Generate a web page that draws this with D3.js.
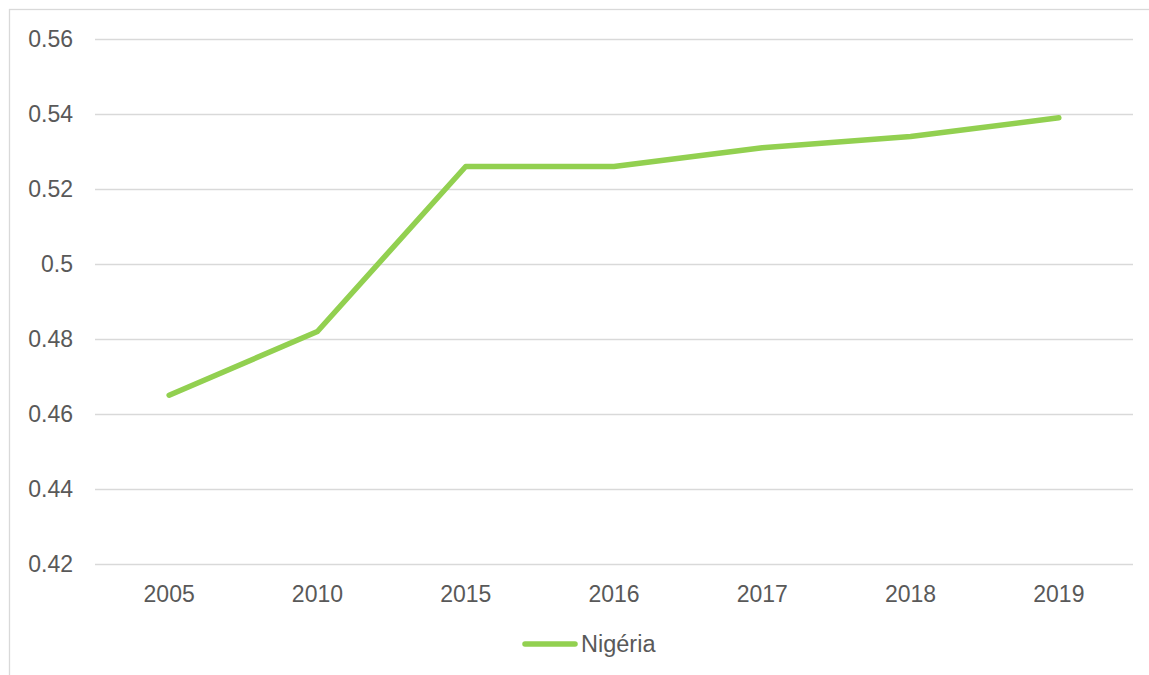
<!DOCTYPE html>
<html><head><meta charset="utf-8">
<script src="https://cdn.jsdelivr.net/npm/d3@7"></script>
<style>body{margin:0;background:#fff}svg{display:block}</style>
</head><body>
<script>
const categories = ["2005","2010","2015","2016","2017","2018","2019"];
const values = [0.465,0.482,0.526,0.526,0.531,0.534,0.539];
const yTicks = [0.42,0.44,0.46,0.48,0.5,0.52,0.54,0.56];
const seriesName = "Nigéria";

const W = 1149, H = 675;
const svg = d3.select("body").append("svg").attr("width", W).attr("height", H);
const font = "'Liberation Sans', Arial, sans-serif";
const txt = "#595959", grid = "#D9D9D9", green = "#92D050";

svg.append("rect").attr("x",9.5).attr("y",9.5).attr("width",1200).attr("height",700)
  .attr("fill","#fff").attr("stroke",grid).attr("stroke-width",1.3);

const x = d3.scaleBand().domain(categories).range([95,1133]).padding(0);
const y = d3.scaleLinear().domain([0.42,0.56]).range([564,39]);

const yAxis = d3.axisLeft(y).tickValues(yTicks).tickSize(0).tickPadding(22)
  .tickFormat(d => String(+d.toFixed(2)));
const gy = svg.append("g").attr("transform","translate(95,0)").call(yAxis);
gy.select(".domain").remove();
gy.selectAll("text").attr("font-family",font).attr("font-size",23).attr("fill",txt);

svg.append("g").selectAll("line").data(yTicks).join("line")
  .attr("x1",95).attr("x2",1133).attr("y1",d=>Math.round(y(d))+0.5).attr("y2",d=>Math.round(y(d))+0.5)
  .attr("stroke",grid).attr("stroke-width",1.5);

const xAxis = d3.axisBottom(x).tickSize(0).tickPadding(22);
const gx = svg.append("g").attr("transform","translate(0,564)").call(xAxis);
gx.select(".domain").remove();
gx.selectAll("text").attr("font-family",font).attr("font-size",23).attr("fill",txt);

const line = d3.line().x((d,i)=>x(categories[i])+x.bandwidth()/2).y(d=>y(d));
svg.append("path").datum(values).attr("d",line).attr("fill","none")
  .attr("stroke",green).attr("stroke-width",5.5).attr("stroke-linecap","round").attr("stroke-linejoin","round");

const lg = svg.append("g");
lg.append("line").attr("x1",525).attr("x2",575).attr("y1",644).attr("y2",644)
  .attr("stroke",green).attr("stroke-width",5.5).attr("stroke-linecap","round");
lg.append("text").attr("x",581).attr("y",644).attr("dy","0.35em").text(seriesName)
  .attr("font-family",font).attr("font-size",23.5).attr("fill",txt);
</script>
</body></html>
